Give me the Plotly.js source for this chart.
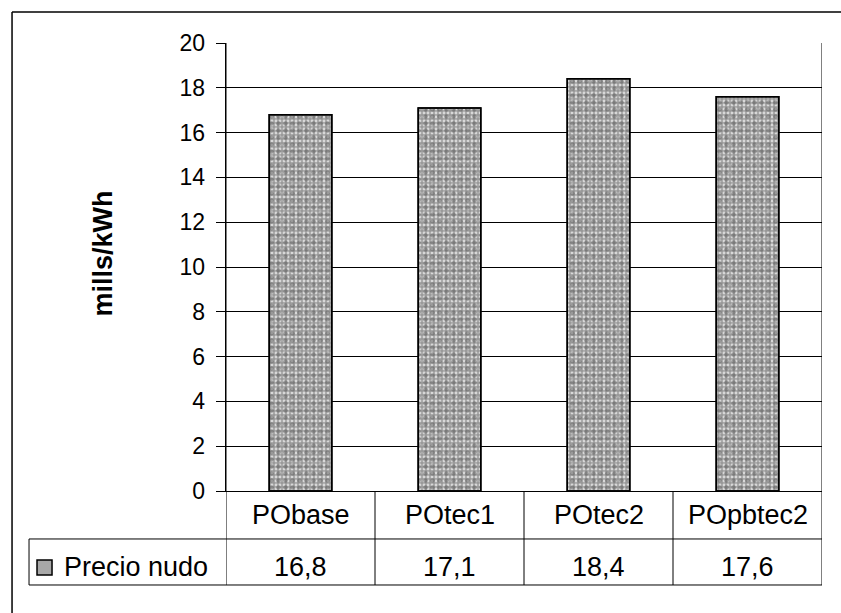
<!DOCTYPE html>
<html>
<head>
<meta charset="utf-8">
<script src="https://cdn.plot.ly/plotly-3.0.1.min.js"></script>
<style>
html,body{margin:0;padding:0;background:#fff;overflow:hidden;}
#chart{width:841px;height:613px;}
</style>
</head>
<body>
<div id="chart"></div>
<script>
const categories = ["PObase", "POtec1", "POtec2", "POpbtec2"];
const precioNudo = [16.8, 17.1, 18.4, 17.6];
const seriesName = "Precio nudo";
const yTitle = "mills/kWh";
const yTickVals = [0, 2, 4, 6, 8, 10, 12, 14, 16, 18, 20];

const FONT = "Liberation Sans, Arial, sans-serif";
const fmt = v => v.toFixed(1).replace('.', ',');

// Geometry helpers (paper coords)
const yRow1 = -0.1071; // bottom of category row
const yRow2 = -0.2098; // bottom of value row
const xLeg = -0.3305;  // left edge of legend cell

const traces = [
  {
    type: 'bar',
    x: categories,
    y: precioNudo,
    name: seriesName,
    width: 0.42,
    marker: {
      color: '#9a9a9a',
      line: {color: '#000', width: 1.5},
      pattern: {shape: '.', fgcolor: '#d8d8d8', bgcolor: '#9a9a9a', size: 4, solidity: 0.4, fillmode: 'replace'}
    },
    showlegend: false,
    hoverinfo: 'skip'
  },
  {
    type: 'bar',
    x: categories,
    y: precioNudo,
    name: seriesName,
    width: 0.42,
    marker: {
      color: 'rgba(0,0,0,0)',
      line: {color: '#000', width: 1.5},
      pattern: {shape: '.', fgcolor: '#5a5a5a', size: 7, solidity: 0.35, fillmode: 'overlay'}
    },
    showlegend: false,
    hoverinfo: 'skip'
  }
];

const shapes = [];
const line = {color: '#000', width: 1};
// outer border (top and left; right/bottom lie outside the picture)
shapes.push({type: 'line', xref: 'paper', yref: 'paper', x0: -0.359, x1: 1.04, y0: 1.0692, y1: 1.0692, line: {color: '#000', width: 1.5}});
shapes.push({type: 'line', xref: 'paper', yref: 'paper', x0: -0.359, x1: -0.359, y0: 1.0692, y1: -0.28, line: {color: '#000', width: 1.5}});
// plot left and right borders extended through table
shapes.push({type: 'line', xref: 'x', yref: 'paper', x0: -0.5, x1: -0.5, y0: 1, y1: yRow2, line});
shapes.push({type: 'line', xref: 'x', yref: 'paper', x0: 3.5, x1: 3.5, y0: 1, y1: yRow2, line});
// column dividers
for (let i = 0; i < categories.length - 1; i++) {
  shapes.push({type: 'line', xref: 'x', yref: 'paper', x0: i + 0.5, x1: i + 0.5, y0: 0, y1: yRow2, line});
}
// horizontal table lines
shapes.push({type: 'line', xref: 'paper', yref: 'paper', x0: xLeg, x1: 1, y0: yRow1, y1: yRow1, line});
shapes.push({type: 'line', xref: 'paper', yref: 'paper', x0: xLeg, x1: 1, y0: yRow2, y1: yRow2, line});
shapes.push({type: 'line', xref: 'paper', yref: 'paper', x0: xLeg, x1: xLeg, y0: yRow1, y1: yRow2, line});
// legend key
shapes.push({type: 'rect', xref: 'paper', yref: 'paper', x0: -0.3171, x1: -0.2919, y0: -0.1875, y1: -0.154,
  fillcolor: '#a8a8a8', line: {color: '#000', width: 1.5}});

const annotations = [];
categories.forEach((c, i) => {
  annotations.push({xref: 'x', yref: 'paper', x: i, y: -0.0536, text: c, showarrow: false,
    xanchor: 'center', yanchor: 'middle', font: {family: FONT, size: 27, color: '#000'}});
  annotations.push({xref: 'x', yref: 'paper', x: i, y: -0.1696, text: fmt(precioNudo[i]), showarrow: false,
    xanchor: 'center', yanchor: 'middle', font: {family: FONT, size: 27, color: '#000'}});
});
annotations.push({xref: 'paper', yref: 'paper', x: -0.2745, y: -0.1696, text: seriesName, showarrow: false,
  xanchor: 'left', yanchor: 'middle', font: {family: FONT, size: 27, color: '#000'}});
annotations.push({xref: 'paper', yref: 'paper', x: -0.2072, y: 0.529, text: '<b>' + yTitle + '</b>', showarrow: false,
  textangle: -90, xanchor: 'center', yanchor: 'middle', font: {family: FONT, size: 27, color: '#000'}});

const layout = {
  width: 841, height: 613,
  margin: {l: 226, r: 19, t: 43, b: 122, pad: 0},
  paper_bgcolor: '#fff', plot_bgcolor: '#fff',
  barmode: 'overlay',
  showlegend: false,
  font: {family: FONT, color: '#000'},
  xaxis: {
    type: 'category', range: [-0.5, 3.5], showticklabels: false, ticks: '',
    showgrid: false, zeroline: false, showline: true, linecolor: '#000', linewidth: 1, fixedrange: true
  },
  yaxis: {
    range: [0, 20], tickvals: yTickVals, ticktext: yTickVals.map(v => String(v) + '\u00a0'),
    ticks: 'outside', ticklen: 9, tickcolor: '#000', tickwidth: 1,
    showgrid: true, gridcolor: '#000', gridwidth: 1, zeroline: false,
    showline: true, linecolor: '#000', linewidth: 1,
    tickfont: {family: FONT, size: 23, color: '#000'}, fixedrange: true
  },
  shapes, annotations
};

Plotly.newPlot('chart', traces, layout, {displayModeBar: false, staticPlot: true});
</script>
</body>
</html>
